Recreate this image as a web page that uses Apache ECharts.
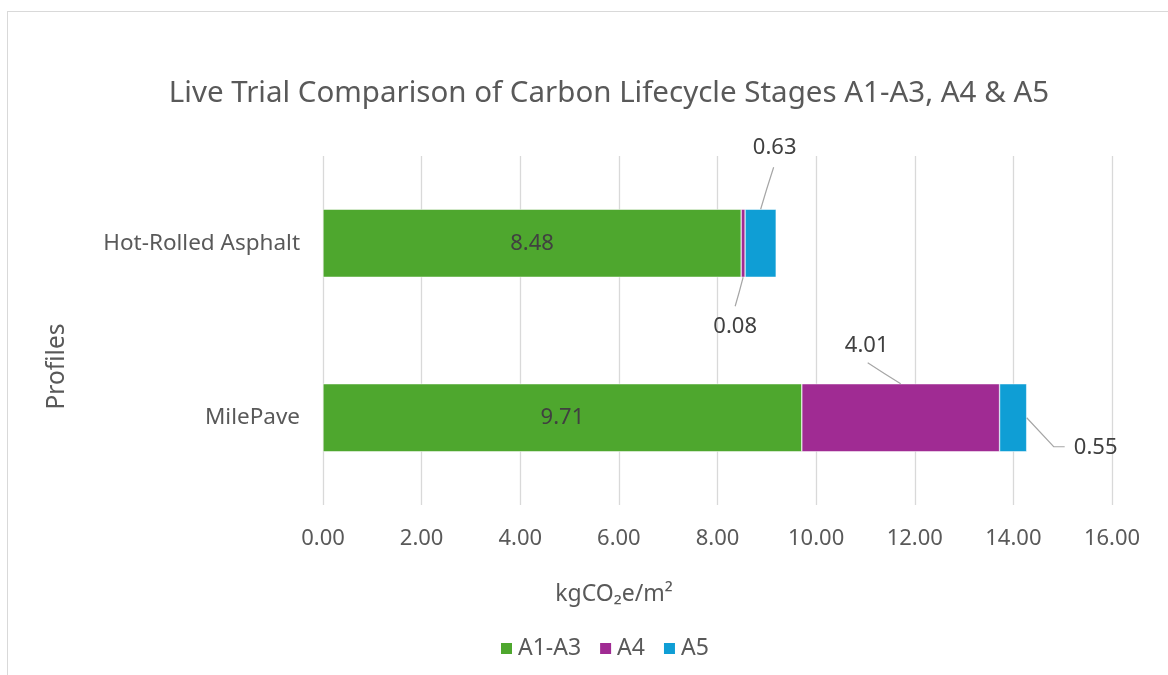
<!DOCTYPE html>
<html>
<head>
<meta charset="utf-8">
<script src="https://cdn.jsdelivr.net/npm/echarts@6/dist/echarts.min.js"></script>
<style>
  html, body { margin: 0; padding: 0; background: #fff; overflow: hidden; }
  #frame { position: absolute; left: 7px; top: 11px; width: 2000px; height: 2000px; border: 1px solid #d9d9d9; }
  #chart { position: absolute; left: 0; top: 0; width: 1168px; height: 675px; }
</style>
</head>
<body>
<div id="frame"></div>
<div id="chart"></div>
<script>
const categories = ['Hot-Rolled Asphalt', 'MilePave'];
const seriesNames = ['A1-A3', 'A4', 'A5'];
const a1a3 = [8.48, 9.71];
const a4 = [0.08, 4.01];
const a5 = [0.63, 0.55];
const xTicks = { min: 0, max: 16, interval: 2 };
const colors = ['#4ea72e', '#a02b93', '#0f9ed5'];

const FONT = 'Noto Sans';
const TXT = '#595959';
const LBL = '#404040';
const BAR_FRAC = 0.39;

// Leader-line layout for outside labels, relative to the bar segment's own rect.
const layoutA4 = [
  { anchor: 'bottom', label: [-8, 49], line: [[-4, 15], [-8, 29]] },
  { anchor: 'top', label: [-34, -38], line: [[-16, -10], [-33, -21]] }
];
const layoutA5 = [
  { anchor: 'top', label: [14, -61], line: [[6, -20], [13, -42]] },
  { anchor: 'right', label: [69, 30], line: [[27, 29], [38, 29]] }
];

function anchorPoint(rect, where) {
  if (where === 'top') return [rect.x + rect.width / 2, rect.y];
  if (where === 'bottom') return [rect.x + rect.width / 2, rect.y + rect.height];
  return [rect.x + rect.width, rect.y + rect.height / 2];
}

function makeLabelLayout(spec) {
  return function (params) {
    const s = spec[params.dataIndex];
    const a = anchorPoint(params.rect, s.anchor);
    return { x: a[0] + s.label[0], y: a[1] + s.label[1], align: 'center', verticalAlign: 'middle' };
  };
}

// leader line data built from the series arrays: [segStart, segEnd, categoryIndex, specRef]
const specs = [layoutA4, layoutA5];
const leaderData = [];
categories.forEach((c, i) => {
  leaderData.push([a1a3[i], a1a3[i] + a4[i], i, 0]);
  leaderData.push([a1a3[i] + a4[i], a1a3[i] + a4[i] + a5[i], i, 1]);
});

function renderLeader(params, api) {
  const start = api.value(0), end = api.value(1), ci = api.value(2), si = api.value(3);
  const p0 = api.coord([start, ci]);
  const p1 = api.coord([end, ci]);
  const barH = api.size([0, 1])[1] * BAR_FRAC;
  const rect = { x: p0[0], y: p0[1] - barH / 2, width: p1[0] - p0[0], height: barH };
  const s = specs[si][ci];
  const a = anchorPoint(rect, s.anchor);
  const pts = [a].concat(s.line.map(d => [a[0] + d[0], a[1] + d[1]]));
  return {
    type: 'polyline',
    silent: true,
    shape: { points: pts },
    style: { stroke: '#a6a6a6', lineWidth: 1.2, fill: null }
  };
}

const chart = echarts.init(document.getElementById('chart'), null, { renderer: 'canvas' });

function segSeries(name, data, color, spec) {
  const s = {
    name: name,
    type: 'bar',
    stack: 'total',
    barWidth: (BAR_FRAC * 100) + '%',
    data: data,
    itemStyle: { color: color, borderColor: '#ffffff', borderWidth: 0.5 },
    label: {
      show: true,
      position: 'inside',
      formatter: p => p.value.toFixed(2),
      color: LBL,
      fontFamily: FONT,
      fontSize: 22
    }
  };
  if (spec) s.labelLayout = makeLabelLayout(spec);
  return s;
}

chart.setOption({
  animation: false,
  backgroundColor: 'transparent',
  color: colors,
  title: [
    {
      text: 'Live Trial Comparison of Carbon Lifecycle Stages A1-A3, A4 & A5',
      left: 604, top: 74, textAlign: 'center',
      textStyle: { fontFamily: FONT, fontSize: 29.5, fontWeight: 'normal', color: TXT }
    },
    {
      text: 'kgCO₂e/m²',
      left: 609, top: 578, textAlign: 'center',
      textStyle: { fontFamily: FONT, fontSize: 23, fontWeight: 'normal', color: TXT }
    }
  ],
  legend: {
    data: seriesNames,
    bottom: 10,
    left: 494,
    itemWidth: 13, itemHeight: 13, itemGap: 17,
    icon: 'rect',
    textStyle: { fontFamily: FONT, fontSize: 23, color: TXT }
  },
  grid: { left: 323, right: 56, top: 156, bottom: 170, containLabel: false },
  xAxis: {
    type: 'value',
    min: xTicks.min, max: xTicks.max, interval: xTicks.interval,
    axisLine: { show: false },
    axisTick: { show: false },
    splitLine: { show: true, lineStyle: { color: '#d9d9d9', width: 1.3 } },
    axisLabel: {
      formatter: v => v.toFixed(2),
      fontFamily: FONT, fontSize: 22, color: TXT, margin: 23
    }
  },
  yAxis: {
    type: 'category',
    data: categories,
    inverse: true,
    axisLine: { show: false },
    axisTick: { show: false },
    axisLabel: { fontFamily: FONT, fontSize: 22.5, color: TXT, margin: 23 },
    name: 'Profiles',
    nameLocation: 'middle',
    nameRotate: 90,
    nameGap: 253,
    nameTextStyle: { fontFamily: FONT, fontSize: 24.5, color: TXT, padding: [0, 0, 0, -72] }
  },
  series: [
    segSeries('A1-A3', a1a3, colors[0], null),
    segSeries('A4', a4, colors[1], layoutA4),
    segSeries('A5', a5, colors[2], layoutA5),
    {
      name: 'leaders',
      type: 'custom',
      renderItem: renderLeader,
      data: leaderData,
      encode: { x: [0, 1], y: 2 },
      silent: true,
      z: 3
    }
  ]
});
</script>
</body>
</html>
